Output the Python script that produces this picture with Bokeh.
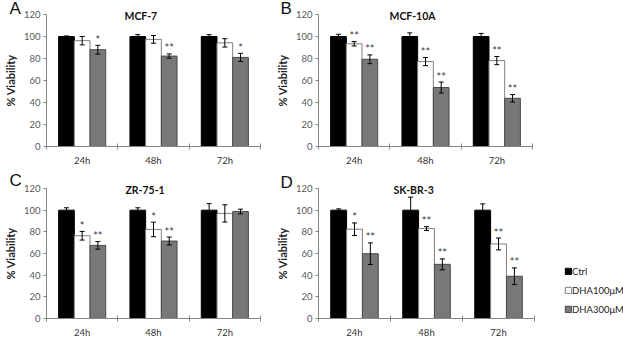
from bokeh.plotting import figure
from bokeh.models import (Range1d, FixedTicker, ColumnDataSource, Whisker, TeeHead,
                          Title, Legend, LegendItem)
from bokeh.layouts import row, column
from bokeh.transform import dodge
from bokeh.core.properties import value
from bokeh.embed import file_html
from bokeh.resources import INLINE

categories = ["24h", "48h", "72h"]
series_names = ["Ctrl", "DHA100\u03bcM", "DHA300\u03bcM"]
y_ticks = [0, 20, 40, 60, 80, 100, 120]

# MCF-7
a_ctrl = [100, 100, 100]
a_ctrl_err = [0.5, 1.7, 1.7]
a_d100 = [96.2, 97.4, 94.2]
a_d100_err = [3.8, 3.5, 3.8]
a_d300 = [88.0, 82.2, 81.0]
a_d300_err = [4.0, 2.0, 3.7]
a_sig100 = ["", "", ""]
a_sig300 = ["*", "**", "*"]

# MCF-10A
b_ctrl = [100, 100, 100]
b_ctrl_err = [2.0, 3.3, 2.8]
b_d100 = [93.4, 77.2, 78.1]
b_d100_err = [2.0, 3.7, 3.7]
b_d300 = [79.3, 53.6, 43.8]
b_d300_err = [4.0, 5.0, 3.4]
b_sig100 = ["**", "**", "**"]
b_sig300 = ["**", "**", "**"]

# ZR-75-1
c_ctrl = [100, 100, 100]
c_ctrl_err = [2.2, 2.2, 6.0]
c_d100 = [76.4, 82.2, 97.0]
c_d100_err = [4.0, 6.7, 8.0]
c_d300 = [67.5, 71.5, 98.7]
c_d300_err = [3.5, 3.7, 2.2]
c_sig100 = ["*", "*", ""]
c_sig300 = ["**", "**", ""]

# SK-BR-3
d_ctrl = [100, 100, 100]
d_ctrl_err = [1.2, 12.0, 5.8]
d_d100 = [82.4, 83.0, 68.8]
d_d100_err = [5.8, 1.8, 5.5]
d_d300 = [59.8, 50.0, 39.0]
d_d300_err = [10.0, 5.0, 7.7]
d_sig100 = ["*", "**", "**"]
d_sig300 = ["**", "**", "**"]

FONT = "Lato"
FILLS = ["#000000", "#ffffff", "#787878"]
LINES = ["#000000", "#7f7f7f", "#4a4a4a"]
BW = 0.22
OFFS = [-BW, 0.0, BW]
BAR_FRAME_W = 221   # px covered by the three categories


def panel(title, letter, ctrl, ctrl_err, d100, d100_err, d300, d300_err, sig100, sig300,
          width, height, bb, br=12, title_left=78, letter_left=-37, letter_standoff=-7,
          legend=False):
    bl = 39
    frame_w = width - bl - br
    n = len(categories)
    x_end = n * frame_w / BAR_FRAME_W
    p = figure(width=width, height=height, output_backend="svg", toolbar_location=None,
               x_range=Range1d(0, x_end), y_range=Range1d(y_ticks[0], y_ticks[-1]),
               min_border_left=bl, min_border_right=br, min_border_top=0, min_border_bottom=bb)
    p.outline_line_color = None
    p.grid.visible = False
    p.background_fill_color = "white"
    p.border_fill_color = "white"

    xs = [i + 0.5 for i in range(n)]
    renderers = []
    for k, (vals, errs, sig) in enumerate([(ctrl, ctrl_err, [""] * n),
                                           (d100, d100_err, sig100),
                                           (d300, d300_err, sig300)]):
        src = ColumnDataSource(dict(
            x=xs, v=vals,
            up=[v + e for v, e in zip(vals, errs)],
            lo=[v - e for v, e in zip(vals, errs)],
            sig=sig))
        r = p.vbar(x=dodge("x", OFFS[k]), top="v", bottom=0, width=BW, source=src,
                   fill_color=FILLS[k], line_color=LINES[k], line_width=1)
        renderers.append(r)
        w = Whisker(base=dodge("x", OFFS[k]), upper="up", lower="lo", source=src,
                    dimension="height", line_color="black", line_width=1, level="annotation",
                    upper_head=TeeHead(size=5, line_color="black", line_width=1),
                    lower_head=TeeHead(size=5, line_color="black", line_width=1))
        p.add_layout(w)
        p.text(x=dodge("x", OFFS[k]), y="up", text="sig", source=src,
               text_font=value(FONT), text_font_size="11px", text_color="#3a3a3a",
               text_align="center", text_baseline="middle", y_offset=-6)

    # y axis
    yax = p.yaxis[0]
    yax.ticker = FixedTicker(ticks=y_ticks)
    yax.axis_label = "% Viability"
    yax.axis_label_text_font = FONT
    yax.axis_label_text_font_style = "bold"
    yax.axis_label_text_font_size = "11px"
    yax.axis_label_text_color = "#222222"
    yax.axis_label_standoff = 4
    yax.major_label_text_font = FONT
    yax.major_label_text_font_size = "9.5px"
    yax.major_label_text_color = "#595959"
    yax.major_label_standoff = 3
    yax.major_tick_out = 3
    yax.major_tick_in = 0
    yax.minor_tick_line_color = None
    yax.axis_line_color = "#868686"
    yax.major_tick_line_color = "#868686"

    # x axis: labels at category centres, marks at category borders
    xax = p.xaxis[0]
    xax.bounds = (0, n)
    xax.ticker = FixedTicker(ticks=xs, minor_ticks=list(range(n + 1)))
    xax.major_label_overrides = {x: c for x, c in zip(xs, categories)}
    xax.major_label_text_font = FONT
    xax.major_label_text_font_size = "9.5px"
    xax.major_label_text_color = "#333333"
    xax.major_label_standoff = 5
    xax.major_tick_in = 0
    xax.major_tick_out = 0
    xax.minor_tick_in = 3
    xax.minor_tick_out = 3
    xax.axis_line_color = "#868686"
    xax.minor_tick_line_color = "#868686"

    p.title.visible = False
    # panel name (nearest the frame, straddling its top edge)
    p.add_layout(Title(text=title, align="left", offset=title_left, vertical_align="bottom",
                       standoff=-14, text_font=FONT, text_font_style="bold",
                       text_font_size="10.5px", text_color="#111111"), "above")
    # panel letter, top-left corner
    p.add_layout(Title(text=letter, align="left", offset=letter_left, vertical_align="bottom",
                       standoff=letter_standoff, text_font="Liberation Sans",
                       text_font_size="17px", text_font_style="normal",
                       text_color="#111111"), "above")

    if legend:
        items = [LegendItem(label=nm, renderers=[r]) for nm, r in zip(series_names, renderers)]
        lg = Legend(items=items, location=(246, 3), orientation="vertical",
                    glyph_width=8, glyph_height=8, label_height=12, label_standoff=0,
                    spacing=7, padding=0, margin=0, border_line_color=None,
                    background_fill_alpha=0, label_text_font=FONT,
                    label_text_font_size="9.5px", label_text_color="#222222")
        p.add_layout(lg)
    return p


pA = panel("MCF-7", "A", a_ctrl, a_ctrl_err, a_d100, a_d100_err, a_d300, a_d300_err,
           a_sig100, a_sig300, 272, 170, 24, title_left=78, letter_left=-37)
pB = panel("MCF-10A", "B", b_ctrl, b_ctrl_err, b_d100, b_d100_err, b_d300, b_d300_err,
           b_sig100, b_sig300, 272, 170, 22, title_left=71, letter_left=-38)
pC = panel("ZR-75-1", "C", c_ctrl, c_ctrl_err, c_d100, c_d100_err, c_d300, c_d300_err,
           c_sig100, c_sig300, 272, 170, 16, title_left=79, letter_left=-37,
           letter_standoff=-3)
pD = panel("SK-BR-3", "D", d_ctrl, d_ctrl_err, d_d100, d_d100_err, d_d300, d_d300_err,
           d_sig100, d_sig300, 351, 170, 22, br=0, title_left=75, letter_left=-38,
           legend=True)

layout = column(row(pA, pB), row(pC, pD))
open("out.html", "w").write(file_html(layout, INLINE))
